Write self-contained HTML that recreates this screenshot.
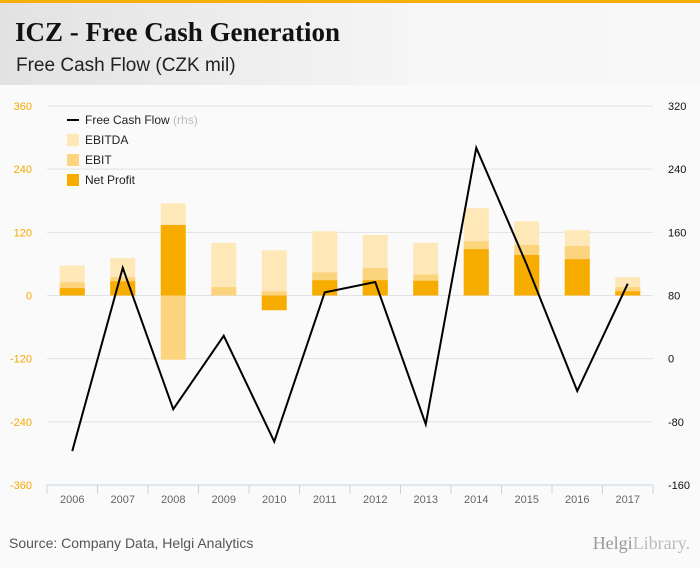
<!DOCTYPE html>
<html><head><meta charset="utf-8"><style>
body{margin:0;width:700px;height:568px;overflow:hidden;background:#fafafa;font-family:"Liberation Sans",sans-serif}
#hdr{position:absolute;left:0;top:0;width:700px;height:85px;background:linear-gradient(90deg,#e2e2e2,#f6f6f6 60%,#f8f8f8);border-top:3px solid #f5b000;box-sizing:border-box}
#t{position:absolute;left:15px;top:14px;font:bold 27px "Liberation Serif",serif;color:#111}
#s{position:absolute;left:16px;top:52px;font-size:19px;color:#222}
#src{position:absolute;left:9px;top:535px;font-size:14px;color:#555}
#logo{position:absolute;right:10px;top:533px;font:18px "Liberation Serif",serif;color:#999}
</style></head><body>
<div id="hdr">
<div id="t">ICZ - Free Cash Generation</div>
<div id="s">Free Cash Flow (CZK mil)</div></div>
<svg id="c" width="700" height="568" style="position:absolute;left:0;top:0"></svg>
<div id="src">Source: Company Data, Helgi Analytics</div>
<div id="logo">Helgi<span style="color:#bbb">Library.</span></div>
<script>
const years=["2006","2007","2008","2009","2010","2011","2012","2013","2014","2015","2016","2017"];
const ebitda=[57,71,175,100,86,122,115,100,166,141,124,35];
const ebit=[25,35,-122,16,8,44,52,40,103,96,94,16];
const netProfit=[14,27,134,0,-28,29,29,28,88,77,69,8];
const fcf=[-117,115,-64,29,-105,84,97,-83,267,119,-41,95];
const leftTicks=[360,240,120,0,-120,-240,-360];
const rightTicks=[320,240,160,80,0,-80,-160];
const svg=document.getElementById('c'),NS='http://www.w3.org/2000/svg';
const X0=47,X1=653,YT=106,YB=485;
const yL=v=>YT+(360-v)/720*(YB-YT);
const yR=v=>YT+(320-v)/480*(YB-YT);
const bw=(X1-X0)/years.length;
const xC=i=>X0+bw*(i+0.5);
function mk(t,a,txt){const e=document.createElementNS(NS,t);for(const k in a)e.setAttribute(k,a[k]);if(txt!=null)e.textContent=txt;svg.appendChild(e);return e;}
leftTicks.forEach((v,i)=>{
 const g=mk('line',{x1:X0,x2:X1,y1:yL(v),y2:yL(v),stroke:'#e2e2e2'});
 
 const l=mk('text',{x:32,y:yL(v)+4,'text-anchor':'end','font-size':11,fill:'#f5a800'},v);
 
 const r=mk('text',{x:668,y:yR(rightTicks[i])+4,'font-size':11,fill:'#111'},rightTicks[i]);
 
});
function bar(i,v,col,nm){const y0=yL(0),y1=yL(v);const r=mk('rect',{x:xC(i)-12.5,width:25,y:Math.min(y0,y1),height:Math.abs(y1-y0),fill:col});
 }
years.forEach((yr,i)=>{
 bar(i,ebitda[i],'#ffe8b8','bar-ebitda');bar(i,ebit[i],'#fdd47e','bar-ebit');bar(i,netProfit[i],'#f7ad00','bar-net-profit');
 const t=mk('text',{x:xC(i),y:503,'text-anchor':'middle','font-size':11,fill:'#666'},yr);
 
 const tk=mk('line',{x1:X0+bw*i,x2:X0+bw*i,y1:YB,y2:YB+9,stroke:'#c8d4e4'});
 
});
const tk=mk('line',{x1:X1,x2:X1,y1:YB,y2:YB+9,stroke:'#c8d4e4'});

const ax=mk('line',{x1:X0,x2:X1,y1:YB,y2:YB,stroke:'#c8d4e4'});

const ln=mk('polyline',{points:fcf.map((v,i)=>xC(i)+','+yR(v)).join(' '),fill:'none',stroke:'#000','stroke-width':2});

const leg=[['line','#000','Free Cash Flow'],['rect','#ffe8b8','EBITDA'],['rect','#fdd47e','EBIT'],['rect','#f7ad00','Net Profit']];
leg.forEach((l,i)=>{const y=120+i*20;
 if(l[0]=='line'){const e=mk('line',{x1:67,x2:79,y1:y,y2:y,stroke:'#000','stroke-width':2});}
 else{const e=mk('rect',{x:67,y:y-6,width:12,height:12,fill:l[1]});}
 const t=mk('text',{x:85,y:y+4,'font-size':12,fill:'#222'},l[2]);
 
 if(i==0){const s=document.createElementNS(NS,'tspan');s.setAttribute('fill','#bbb');s.textContent=' (rhs)';t.appendChild(s);}
});
</script></body></html>
